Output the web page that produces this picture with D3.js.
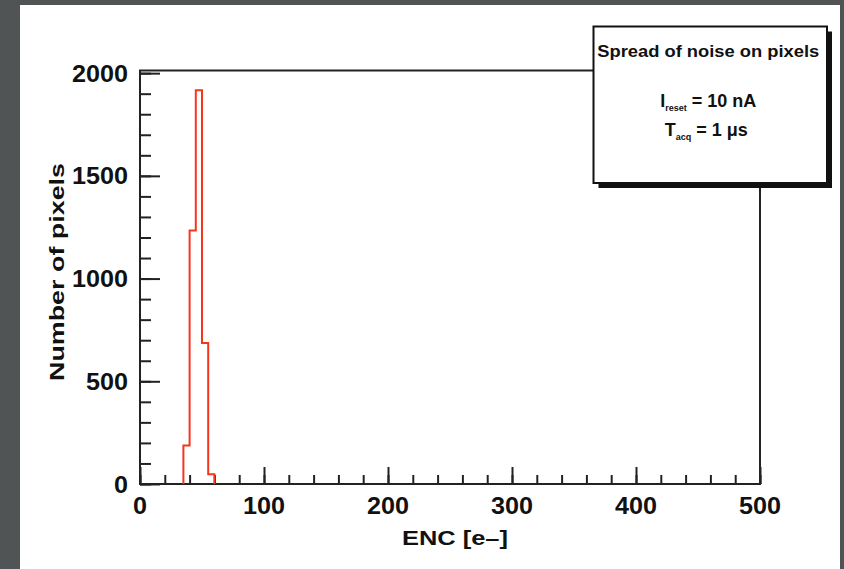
<!DOCTYPE html>
<html>
<head>
<meta charset="utf-8">
<script src="https://cdn.jsdelivr.net/npm/d3@7"></script>
<style>
  html, body { margin: 0; padding: 0; background: #505455; }
  svg { display: block; }
  text { font-family: "Liberation Sans", Arial, Helvetica, sans-serif; font-weight: bold; fill: #111; }
</style>
</head>
<body>
<script>
// Noise spread histogram: ENC per pixel, 5 e- bins on [0, 500]
const binWidth = 5;
const binStarts = [35, 40, 45, 50, 55];
const binCounts = [187, 1234, 1917, 686, 47];

const xTicksMajor = [0, 100, 200, 300, 400, 500];
const yTicksMajor = [0, 500, 1000, 1500, 2000];

const xTitle = "ENC [e\u2013]";
const yTitle = "Number of pixels";
const legendTitle = "Spread of noise on pixels";

const W = 844, H = 569;
const svg = d3.select("body").append("svg").attr("width", W).attr("height", H);

// page background
svg.append("rect").attr("x", 20).attr("y", 5).attr("width", 820).attr("height", H - 5).attr("fill", "#fff");

const frame = { left: 140, right: 760, top: 70.5, bottom: 484 };
const yMax = d3.max(binCounts) * 1.05;

const x = d3.scaleLinear().domain([0, 500]).range([frame.left, frame.right]);
const y = d3.scaleLinear().domain([0, yMax]).range([frame.bottom, frame.top]);

// frame box
svg.append("rect")
  .attr("x", frame.left).attr("y", frame.top)
  .attr("width", frame.right - frame.left).attr("height", frame.bottom - frame.top)
  .attr("fill", "none").attr("stroke", "#222").attr("stroke-width", 2);

// x axis ticks (major every 100, minor every 20)
const xAxisMajor = d3.axisBottom(x).tickValues(xTicksMajor).tickSize(-17).tickFormat("");
const xAxisMinor = d3.axisBottom(x).tickValues(d3.range(0, 501, 20)).tickSize(-9).tickFormat("");
[xAxisMinor, xAxisMajor].forEach(ax => {
  const g = svg.append("g").attr("transform", `translate(0,${frame.bottom})`).call(ax);
  g.select(".domain").remove();
  g.selectAll("line").attr("stroke", "#222").attr("stroke-width", 2);
});

// y axis ticks (major every 500, minor every 100)
const yAxisMajor = d3.axisLeft(y).tickValues(yTicksMajor).tickSize(-20).tickFormat("");
const yAxisMinor = d3.axisLeft(y).tickValues(d3.range(0, yMax, 100)).tickSize(-11).tickFormat("");
[yAxisMinor, yAxisMajor].forEach(ax => {
  const g = svg.append("g").attr("transform", `translate(${frame.left},0)`).call(ax);
  g.select(".domain").remove();
  g.selectAll("line").attr("stroke", "#222").attr("stroke-width", 2);
});

// tick labels
const digitW = 14;
svg.append("g").selectAll("text").data(xTicksMajor).join("text")
  .attr("x", d => x(d)).attr("y", 514)
  .attr("text-anchor", "middle").attr("font-size", 23)
  .attr("textLength", d => String(d).length * digitW).attr("lengthAdjust", "spacingAndGlyphs")
  .text(d => d);

svg.append("g").selectAll("text").data(yTicksMajor).join("text")
  .attr("x", 128).attr("y", d => y(d) + 8.5)
  .attr("text-anchor", "end").attr("font-size", 23)
  .attr("textLength", d => String(d).length * digitW).attr("lengthAdjust", "spacingAndGlyphs")
  .text(d => d);

// axis titles
svg.append("text")
  .attr("x", 455).attr("y", 545).attr("text-anchor", "middle")
  .attr("font-size", 20).attr("textLength", 106).attr("lengthAdjust", "spacingAndGlyphs")
  .text(xTitle);

svg.append("text")
  .attr("transform", "translate(64,272) rotate(-90)")
  .attr("text-anchor", "middle")
  .attr("font-size", 21).attr("textLength", 218).attr("lengthAdjust", "spacingAndGlyphs")
  .text(yTitle);

// histogram outline
const pts = [];
binStarts.forEach((s, i) => {
  pts.push([s, binCounts[i]]);
  pts.push([s + binWidth, binCounts[i]]);
});
pts.unshift([binStarts[0], 0]);
pts.push([binStarts[binStarts.length - 1] + binWidth, 0]);
svg.append("path")
  .attr("d", d3.line().x(d => x(d[0])).y(d => y(d[1]))(pts))
  .attr("fill", "none").attr("stroke", "#f5361e").attr("stroke-width", 2);

// legend box with shadow
const lb = { x: 593.5, y: 26.5, w: 233.5, h: 156.5 };
svg.append("rect").attr("x", lb.x + 5).attr("y", lb.y + 5).attr("width", lb.w).attr("height", lb.h).attr("fill", "#111");
svg.append("rect").attr("x", lb.x).attr("y", lb.y).attr("width", lb.w).attr("height", lb.h)
  .attr("fill", "#fff").attr("stroke", "#111").attr("stroke-width", 2);

const cx = lb.x + lb.w / 2;
svg.append("text").attr("x", cx - 2).attr("y", 57).attr("text-anchor", "middle")
  .attr("font-size", 16).attr("textLength", 222).attr("lengthAdjust", "spacingAndGlyphs")
  .text(legendTitle);

const t1 = svg.append("text").attr("x", cx - 2).attr("y", 107).attr("text-anchor", "middle").attr("font-size", 18);
t1.append("tspan").text("I");
t1.append("tspan").attr("font-size", 9).attr("dy", 4).text("reset");
t1.append("tspan").attr("dy", -4).text(" = 10 nA");

const t2 = svg.append("text").attr("x", cx - 4).attr("y", 136).attr("text-anchor", "middle").attr("font-size", 18);
t2.append("tspan").text("T");
t2.append("tspan").attr("font-size", 9).attr("dy", 4).text("acq");
t2.append("tspan").attr("dy", -4).text(" = 1 \u03bcs");
</script>
</body>
</html>
